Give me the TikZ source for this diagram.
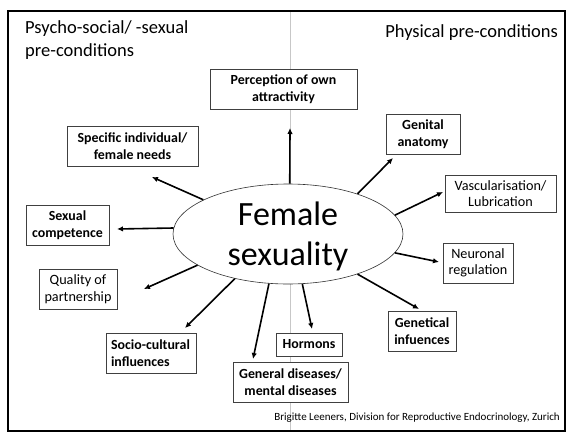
\documentclass[tikz,border=0pt]{standalone}
\usepackage{fontspec}
\setmainfont{Carlito}
\usetikzlibrary{shapes.geometric,arrows.meta}

\tikzset{
  factor/.style={draw=black!75, line width=0.7pt, fill=white, inner sep=0pt,
    align=center, font=\fontsize{14.2}{16.5}\selectfont},
  factorb/.style={factor, font=\fontsize{13.9}{16.5}\selectfont\bfseries},
  link/.style={line width=1.6pt, -{Latex[length=6pt,width=5.5pt]}},
  heading/.style={inner sep=0pt, font=\fontsize{18.5}{22}\selectfont},
}

\begin{document}
\begin{tikzpicture}[x=1pt,y=-1pt]
\useasboundingbox (0,0) rectangle (573,439);
\fill[white] (0,0) rectangle (573,439);

% column divider and outer frame
\coordinate (divtop) at (290,11);
\coordinate (divbot) at (290,431);
\draw[black!22, line width=0.6pt] (divtop) -- (divbot);
\draw[line width=2.6pt] (8,11) rectangle (565,431);

% section headings
\node[heading, anchor=base west] (hleft1) at (25,34) {Psycho-social/ -sexual};
\node[heading, anchor=base west] (hleft2) at (25,56) {pre-conditions};
\node[heading, anchor=base east] (hright) at (558,37) {Physical pre-conditions};

% central ellipse
\node[draw=black!80, line width=0.6pt, fill=white, ellipse, inner sep=0pt,
      minimum width=230pt, minimum height=100pt] (ell) at (288,234) {};
\node[anchor=base, inner sep=0pt, font=\fontsize{34}{40}\selectfont] (fem1) at (288,225) {Female};
\node[anchor=base, inner sep=0pt, font=\fontsize{34}{40}\selectfont] (fem2) at (288,265) {sexuality};

% factor boxes
\node[factorb, minimum width=147pt, minimum height=40pt] (perc)  at (283.5,89) {Perception of own\\attractivity};
\node[factorb, minimum width=131pt, minimum height=40pt] (spec)  at (132.5,146) {Specific individual/\\female needs};
\node[factorb, minimum width=74pt,  minimum height=40pt] (genit) at (423,134) {Genital\\anatomy};
\node[factor,  minimum width=111pt, minimum height=37pt] (vasc)  at (500.5,193.5) {Vascularisation/\\Lubrication};
\node[factorb, minimum width=83pt,  minimum height=40pt] (sexc)  at (67.5,225) {Sexual\\competence};
\node[factor,  minimum width=78pt,  minimum height=40pt] (qual)  at (78,289) {Quality of\\partnership};
\node[factorb, minimum width=90pt,  minimum height=40pt, align=left, text width=80pt] (socio) at (151,353) {Socio-cultural\\influences};
\node[factorb, minimum width=115pt, minimum height=40pt] (gend)  at (290.5,382) {General diseases/\\mental diseases};
\node[factorb, minimum width=66pt,  minimum height=23pt] (horm)  at (309,344.5) {Hormons};
\node[factorb, minimum width=68pt,  minimum height=40pt] (genet) at (422,331) {Genetical\\infuences};
\node[factor,  minimum width=70pt,  minimum height=40pt] (neuro) at (478,263) {Neuronal\\regulation};

% arrow tips
\coordinate (tperc)  at (290,128);
\coordinate (tspec)  at (152,177);
\coordinate (tgenit) at (393,158);
\coordinate (tvasc)  at (443,192);
\coordinate (tsexc)  at (117,229);
\coordinate (tqual)  at (144,289);
\coordinate (tsocio) at (185,328);
\coordinate (tgend)  at (253,359);
\coordinate (thorm)  at (312,329);
\coordinate (tgenet) at (419,309);
\coordinate (tneuro) at (439,262);

% arrows from the ellipse
\draw[link] (ell.88)    -- (tperc);
\draw[link] (ell.158.4) -- (tspec);
\draw[link] (ell.30.7)  -- (tgenit);
\draw[link] (ell.10.6)  -- (tvasc);
\draw[link] (ell.177.5) -- (tsexc);
\draw[link] (ell.199.2) -- (tqual);
\draw[link] (ell.220.6) -- (tsocio);
\draw[link] (ell.249.3) -- (tgend);
\draw[link] (ell.286)   -- (thorm);
\draw[link] (ell.330.9) -- (tgenet);
\draw[link] (ell.350.2) -- (tneuro);

% footer
\node[anchor=base east, inner sep=0pt, font=\fontsize{11}{13}\selectfont] (credit) at (560,420)
  {Brigitte Leeners, Division for Reproductive Endocrinology, Zurich};
\end{tikzpicture}
\end{document}
